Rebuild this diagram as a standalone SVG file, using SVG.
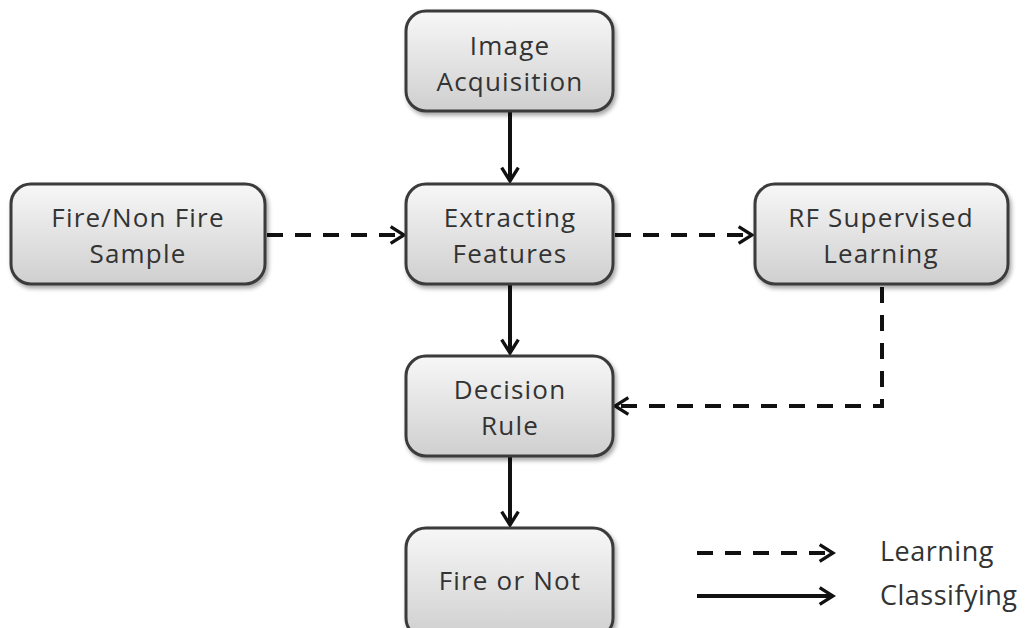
<svg xmlns="http://www.w3.org/2000/svg" width="1029" height="628" viewBox="0 0 1029 628">
<style>
.box{fill:url(#g);stroke:#3a3a3a;stroke-width:3;filter:url(#sh)}
.t{font-family:"Open Sans","Noto Sans",sans-serif;font-size:26px;letter-spacing:1.2px;fill:#333;text-anchor:middle}
.lt{font-family:"Open Sans","Noto Sans",sans-serif;font-size:27px;letter-spacing:0.5px;fill:#333}
.solid{stroke:#111;stroke-width:4;fill:none;marker-end:url(#ah)}
.dash{stroke:#111;stroke-width:4;fill:none;stroke-dasharray:16 12;marker-end:url(#ah)}
</style>
<defs>
<linearGradient id="g" x1="0" y1="0" x2="0" y2="1">
<stop offset="0" stop-color="#f7f7f7"/>
<stop offset="1" stop-color="#cfcfcf"/>
</linearGradient>
<filter id="sh" x="-10%" y="-10%" width="125%" height="130%">
<feDropShadow dx="2" dy="3" stdDeviation="2" flood-color="#000" flood-opacity="0.35"/>
</filter>
<marker id="ah" viewBox="0 0 12 12" refX="10" refY="6" markerWidth="5" markerHeight="5" orient="auto" markerUnits="strokeWidth">
<path d="M2,1 L10,6 L2,11" fill="none" stroke="#111" stroke-width="2"/>
</marker>
</defs>
<rect width="1029" height="628" fill="#fff"/>
<g id="connectors">
<line class="solid" x1="510" y1="112" x2="510" y2="181"/>
<line class="solid" x1="510" y1="285" x2="510" y2="353"/>
<line class="solid" x1="510" y1="457" x2="510" y2="525"/>
<line class="dash" x1="267" y1="235" x2="404" y2="235"/>
<line class="dash" x1="615" y1="235" x2="752" y2="235"/>
<polyline class="dash" points="882,287 882,406 615,406"/>
</g>
<g id="n-image"><rect class="box" x="406" y="11" width="207" height="100" rx="20"/><text class="t" x="510" y="55">Image</text><text class="t" x="510" y="91">Acquisition</text></g>
<g id="n-sample"><rect class="box" x="11" y="184" width="254" height="100" rx="20"/><text class="t" x="138" y="227">Fire/Non Fire</text><text class="t" x="138" y="263">Sample</text></g>
<g id="n-extract"><rect class="box" x="406" y="184" width="207" height="100" rx="20"/><text class="t" x="510" y="227">Extracting</text><text class="t" x="510" y="263">Features</text></g>
<g id="n-rf"><rect class="box" x="755" y="184" width="253" height="100" rx="20"/><text class="t" x="881" y="227">RF Supervised</text><text class="t" x="881" y="263">Learning</text></g>
<g id="n-decision"><rect class="box" x="406" y="356" width="207" height="100" rx="20"/><text class="t" x="510" y="399">Decision</text><text class="t" x="510" y="435">Rule</text></g>
<g id="n-fire"><rect class="box" x="406" y="528" width="207" height="110" rx="20"/><text class="t" x="510" y="590">Fire or Not</text></g>
<g id="legend">
<line class="dash" x1="697" y1="553" x2="833" y2="553"/>
<line class="solid" x1="697" y1="596" x2="833" y2="596"/>
<text class="lt" x="880" y="561">Learning</text>
<text class="lt" x="880" y="605">Classifying</text>
</g>
</svg>
